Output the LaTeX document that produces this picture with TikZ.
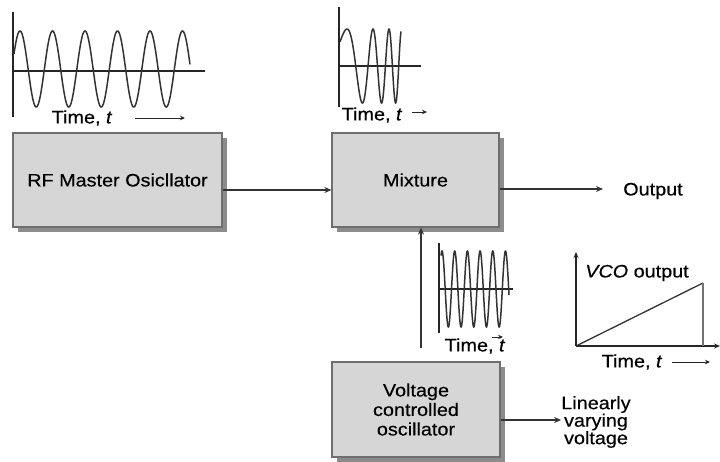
\documentclass[tikz,border=0pt]{standalone}
\usepackage{fontspec}
\setmainfont{Liberation Sans}[FakeStretch=1.1,FakeBold=0.4]
\usetikzlibrary{arrows.meta,shadows}
\definecolor{boxfill}{HTML}{D6D6D6}
\definecolor{boxline}{HTML}{6E6E6E}
\definecolor{shadowc}{HTML}{8C8C8C}
\definecolor{wavec}{HTML}{333333}
\tikzset{
  blockbox/.style={draw=boxline, line width=1.2pt, fill=boxfill,
    drop shadow={shadow xshift=4.5pt, shadow yshift=-4.5pt, fill=shadowc, opacity=1},
    font=\fontsize{18}{19.5}\selectfont, align=center, inner sep=0pt},
  conn/.style={draw=black!80, line width=1.1pt, -{Stealth[length=7pt,width=6pt]}},
  tarrow/.style={draw=black!85, line width=1pt, -{Stealth[length=5pt,width=4.5pt]}},
  axis/.style={draw=black!85, line width=1.3pt},
  wave/.style={draw=wavec, line width=1.5pt},
  lbl/.style={font=\fontsize{18}{17.5}\selectfont, align=center, inner sep=0pt}
}
\begin{document}
\begin{tikzpicture}[x=1pt,y=-1pt]
\useasboundingbox (0,0) rectangle (720,461);
% blocks
\node[blockbox, minimum width=209pt, minimum height=94pt] (rf) at (117.5,180) {RF Master Osicllator};
\node[blockbox, minimum width=167pt, minimum height=94pt] (mix) at (415.5,180) {Mixture};
\node[blockbox, minimum width=168pt, minimum height=95pt] (vco) at (416,409.5) {Voltage\\controlled\\oscillator};
\node[lbl] (out) at (653,191) {Output};
\node[lbl] (lin) at (596,422) {Linearly\\varying\\voltage};
% connectors
\draw[conn] ([yshift=-10pt]rf.east) -- ([yshift=-10pt]mix.west);
\draw[conn] ([yshift=-9pt]mix.east) -- ([yshift=-9pt]mix.east -| 603,0);
\draw[conn] ([yshift=-10.5pt]vco.east) -- ([yshift=-10.5pt]vco.east -| lin.west);
\coordinate (vin) at (421,348);
\draw[conn] (vin) -- (vin |- mix.south);
% waveform 1 (RF master)
\draw[axis] (13,12) -- (13,117);
\draw[axis] (13,71) -- (205,71);
\draw[wave] plot[domain=14:190, samples=400, smooth] (\x, {69-38*cos(11.0769*(\x-20))});
\node[lbl] (t1) at (82,118) {Time, \textit{t}};
\coordinate (a1s) at (135,118); \coordinate (a1e) at (185,118);
\draw[tarrow] (a1s) -- (a1e);
% waveform 2 (mixture)
\draw[axis] (339,7) -- (339,107);
\draw[axis] (339,66) -- (421,66);
\draw[wave] plot[domain=340:401, samples=400, smooth] (\x, {66-37*cos(8.489*(\x-347)+0.2060*(\x-347)*(\x-347))});
\node[lbl] (t2) at (372,115) {Time, \textit{t}};
\coordinate (a2s) at (412,112); \coordinate (a2e) at (427,112);
\draw[tarrow] (a2s) -- (a2e);
% waveform 3 (VCO)
\draw[axis] (439,243) -- (439,333);
\draw[axis] (439,289) -- (513,289);
\draw[wave] plot[domain=441:509, samples=400, smooth] (\x, {289-38*cos(28.3465*(\x-442))});
\node[lbl] (t3) at (475,346) {Time, \textit{t}};
\coordinate (a3s) at (492,337); \coordinate (a3e) at (503,337);
\draw[tarrow] (a3s) -- (a3e);
% VCO output ramp graph
\draw[axis, -{Stealth[length=6pt,width=5pt]}] (576,346) -- (576,252);
\draw[axis, -{Stealth[length=6pt,width=5pt]}] (576,346) -- (720,346);
\draw[wave, line width=1.3pt] (576,346) -- (703,283);
\draw[draw=black!55, line width=1.5pt] (703,283) -- (703,346);
\node[lbl] (vout) at (637,273) {\textit{VCO} output};
\node[lbl] (t4) at (632,362) {Time, \textit{t}};
\coordinate (a4s) at (672,362); \coordinate (a4e) at (710,362);
\draw[tarrow] (a4s) -- (a4e);
\end{tikzpicture}
\end{document}
